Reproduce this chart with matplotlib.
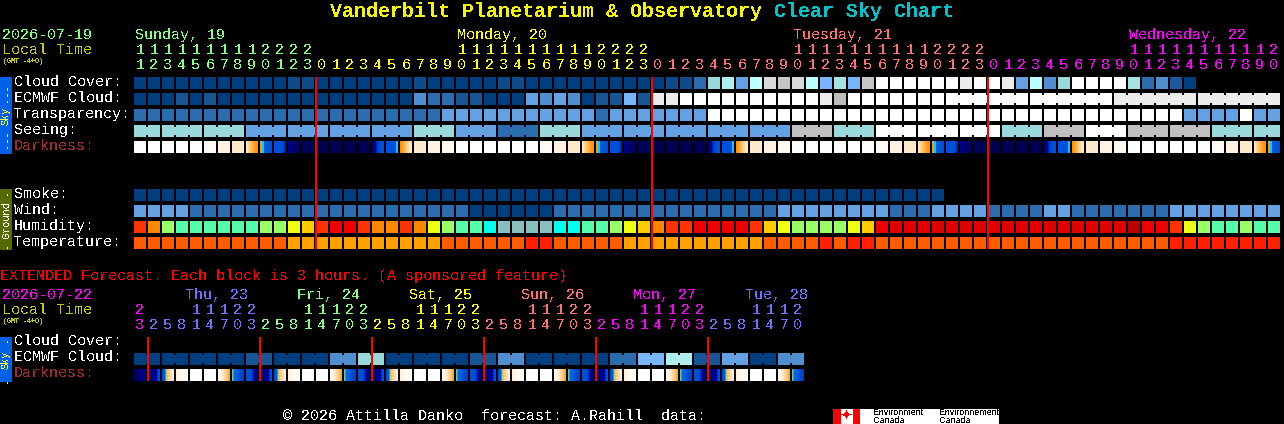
import matplotlib
matplotlib.use("Agg")
import matplotlib.pyplot as plt
from matplotlib.patches import Rectangle

plt.rcParams['text.antialiased'] = False

# ---- palette codes ----
PAL = {
 'a': '#003F7F', 'b': '#0D4B8A', 'c': '#175595', 'C': '#1C5A9E', 'd': '#2B6CAE',
 'e': '#4F8FD0', 'f': '#63A1E3', 'g': '#77B5FE', 'h': '#99D9D9', 'i': '#A5E3E3',
 'j': '#AFEEEE', 'k': '#BBFFFF', 'l': '#C6C6C6', 'm': '#D8D8D8', 'n': '#ECECEC',
 'w': '#FFFFFF', 's': '#C0C0C0', 'o': '#BBBBBB',
 'H': '#FF3300', 'O': '#FF8800', 'L': '#99FF66', 'T': '#55FFAA', 'Y': '#EEFF11',
 'P': '#FFCC00', 'R': '#EE0000', 'S': '#E00000', 'K': '#BB0000', 'B': '#00FFEE',
 'G': '#88BFBF',
 'U': '#FF5C00', 'V': '#FFA000', 'X': '#FF2000',
}

# ---- hourly rows (one code per block) ----
cloud_cover = "aaaaaaaaaaa" "bb" "aaaaaaa" "b" "a" "aaaa" "bb" "aaaaaaaaa" "a" "bb" "d" "h" "j" "f" "k" "m" "l" "m" "k" "g" "i" "g" \
    "l" "wwwwww" "n" "w" "w" "n" "f" "k" "e" "h" "wwww" "i" "d" "e" "C" "a"
ecmwf_cloud = "aaacacaaaaaaaaaaaaaa" "e" "d" "d" "cc" "aaa" "f" "e" "f" "e" "a" "cc" "g" "c" "nn" \
    "wwwwwwwwww" "n" "o" "w" "wwwwwwwwwwwwwwwwww" "nnnnnn" "nnnnnn"
transparency = "dddddddddddddddddddddd" "fffffffffff" "d" "fffffff" \
    "wwwwwwwwwwwwwwwwwwwwwwwwwwwwwwwwww" "ffffwff"
seeing = "hh" "hhh" "hhh" "fff" "fff" "fff" "fff" "hhh" "fff" "ddd" "hhh" "fff" "fff" "fff" "fff" "fff" \
    "sss" "hhh" "www" "www" "www" "hhh" "sss" "www" "sss" "sss" "hhh" "hh"
smoke = "aaaaaaaaaaaaaaaaaaaaaaaaaaaaaaaaaaaaaaaaaaaaaaaaaaaaaaaaaa"
wind = "ffff" "dddddddddddddddddddd" "aaaaaa" "dddddddddddddddd" "ffffffff" "ddd" "ffff" "dddd" "ff" "ddddddd" "ffffffff"
humidity = "HOLTTTTTTLLYPHRRHOOHOY" "LTTB" "GGGG" "BB" "TTLYP" "OHHRRRRH" "PYLLLLY" "PR" \
    "SSSSSSSSSSSSSSSSS" "KRRHYLTTLTT"
temperature = "UUUUUUUUUUU" "VVVVVVVVVVV" "UUUUUU" "XX" "UUUUU" "VVVVVVVVVV" "UUUU" "XUXX" \
    "UUUUUUUUUUUUUUUUUUUUU" "XXXXXXXX"

# ---- darkness blocks: code -> colour stops across the block ----
DARK = {
 '0': ['#FFFFFF'], '1': ['#FFFAF2'], '2': ['#FFF2E0'], '3': ['#FFE9CC'],
 '4': ['#FFEBCF', '#FFE0B0', '#FFD596', '#FFCB80', '#FFC070', '#FFB860', '#FFB050', '#FFA838', '#FFA020', '#FF9A10', '#FF9000', '#FF9000'],
 '5': ['#FF9A00', '#FF9A00', '#00CCFF', '#00CCFF', '#0060E0', '#0058DC', '#0055D8', '#0055D8', '#0052D6', '#0052D6', '#0050D4', '#0050D4'],
 '6': ['#004EDC', '#004EDC', '#004EDC', '#004EDC', '#004EDC', '#004EDC', '#004EDC', '#004EDC', '#004EDC', '#0040C0', '#0030B0', '#0020A0'],
 '7': ['#000098', '#000090', '#000088', '#000080', '#000078', '#000070', '#00006C', '#000068', '#000066', '#000064', '#000062', '#000060'],
 '8': ['#000058'], '9': ['#000050'],
 'p': ['#000060', '#000070', '#000090', '#0000A0', '#0020B0', '#0040C8', '#0048D0', '#004CD4', '#004ED8', '#0050DC', '#0050DC', '#0050DC'],
 'q': ['#0050E0', '#0050E0', '#0050E0', '#0050E0', '#0050E0', '#0050E0', '#0050E0', '#0050E0', '#0050E0', '#0050E0', '#00CCFF', '#00CCFF'],
 'r': ['#FF9000', '#FF9800', '#FFA020', '#FFA838', '#FFB050', '#FFBC68', '#FFC880', '#FFD296', '#FFDCAA', '#FFE4BC', '#FFE8C8', '#FFE9CC'],
}
darkness = "00000" "12345678" "9999" "pqr" "3210" \
           "00000" "12345678" "9999" "pqr" "3210" \
           "00000" "12345678" "9999" "pqr" "3210" \
           "00000" "12345"

# ---- hour labels ----
hours = [11,12,13,14,15,16,17,18,19,20,21,22,23,
         0,1,2,3,4,5,6,7,8,9,10,11,12,13,14,15,16,17,18,19,20,21,22,23,
         0,1,2,3,4,5,6,7,8,9,10,11,12,13,14,15,16,17,18,19,20,21,22,23,
         0,1,2,3,4,5,6,7,8,9,10,11,12,13,14,15,16,17,18,19,20]
day_names = ["Sunday, 19", "Monday, 20", "Tuesday, 21", "Wednesday, 22"]
day_blocks = [0, 23, 47, 71]
ext_hours = [23, 2,5,8,11,14,17,20,23, 2,5,8,11,14,17,20,23, 2,5,8,11,14,17,20,23,
             2,5,8,11,14,17,20,23, 2,5,8,11,14,17,20,23, 2,5,8,11,14,17,20]
ext_names = ["Thu, 23", "Fri, 24", "Sat, 25", "Sun, 26", "Mon, 27", "Tue, 28"]
ext_blocks = [4, 12, 20, 28, 36, 44]

# ---- extended rows (3-hour blocks) ----
ext_ecmwf = "aaaa" "aaaa" "cc" "aa" "aa" "ee" "hh" "aa" "aa" "aa" "cc" "ee" "aa" "aa" "aa" "dd" "gg" "jj" "cc" "ff" "aa" "ee"
EXTD = {
 'A': ['#000060', '#000060', '#000060', '#000060', '#000070', '#000070', '#000070', '#000070', '#000090', '#000090', '#000090', '#000090'],
 'B': ['#000070', '#000070', '#000078', '#000078', '#000080', '#000088', '#000090', '#000098', '#0000A8', '#0030C0', '#0050E0', '#0050E0'],
 'C': ['#0050D0', '#0050D0', '#0060D8', '#00AADD', '#C0C080', '#FFC060', '#FFC880', '#FFD296', '#FFDCAA', '#FFE4BC', '#FFEBD0', '#FFF0DC'],
 'D': ['#FFF0DE', '#FFF2E2', '#FFF4E6', '#FFF6EA', '#FFF8EE', '#FFF8EE', '#FFFAF2', '#FFFAF2', '#FFFCF6', '#FFFCF6', '#FFFEFA', '#FFFFFF'],
 'E': ['#FFFFFF'],
 'F': ['#FFFCF6', '#FFF8EE', '#FFF4E6', '#FFF0DC', '#FFEBD0', '#FFE4BC', '#FFDCAA', '#FFD296', '#FFC880', '#FFC060', '#FFB040', '#FFA030'],
 'G': ['#80C080', '#00A0E0', '#0070E8', '#0060E0', '#0060E0', '#0060E0', '#0050D8', '#0050D8', '#0048D0', '#0048D0', '#0040C8', '#0040C8'],
 'H': ['#0050D8', '#0050D8', '#0050D8', '#0050D8', '#0050D8', '#0040C8', '#0030B8', '#0020A8', '#000098', '#000090', '#000088', '#000080'],
}
ext_dark = "ABCDEEFG" "HBCDEEFG" "HBCDEEFG" "HBCDEEFG" "HBCDEEFG" "HBCDEEFG"

row_labels = ["Cloud Cover:", "ECMWF Cloud:", "Transparency:", "Seeing:", "Darkness:"]
ground_labels = ["Smoke:", "Wind:", "Humidity:", "Temperature:"]

# ---- colours for text ----
GREEN, YEL, SALM, MAG, BLUE = '#80FF80', '#FFFF00', '#FF7070', '#FF00FF', '#7070FF'
OLIVE, DARKRED = '#C8C800', '#A52A2A'
MONO = 'Liberation Mono'
FS = 10.8

fig = plt.figure(figsize=(12.84, 4.24), dpi=100, facecolor='black')
ax = fig.add_axes([0, 0, 1, 1])
ax.set_xlim(0, 1284); ax.set_ylim(424, 0); ax.axis('off'); ax.set_facecolor('black')

X0, STEP, W, H = 134, 14, 12, 12
def bx(i): return X0 + STEP * i
def rect(x, y, w, h, c, z=2):
    ax.add_patch(Rectangle((x, y), w, h, fc=c, ec='none', lw=0, antialiased=False, zorder=z))

def row(codes, y, groups=None):
    for i, ch in enumerate(codes):
        rect(bx(i), y, W, H, PAL[ch])
    if groups:
        for start, n in groups:
            for i in range(start, start + n - 1):
                if i + 1 < len(codes):
                    rect(bx(i) + W, y + 2, STEP - W, H - 4, PAL[codes[i]])

def grad_row(codes, table, y):
    for i, ch in enumerate(codes):
        stops = table[ch]
        if len(stops) == 1:
            rect(bx(i), y, W, H, stops[0])
        else:
            for j, c in enumerate(stops):
                rect(bx(i) + j, y, 1, H, c)

def T(x, y, s, c='white', fs=FS, **kw):
    kw.setdefault('ha', 'left'); kw.setdefault('family', MONO)
    ax.text(x, y - 1, s, color=c, fontsize=fs, va='baseline', zorder=5, **kw)

def V(yc, s, c, fs=7.4):
    ax.text(6, yc, s, color=c, fontsize=fs, family=MONO, rotation=90,
            ha='center', va='center', rotation_mode='anchor', zorder=5)

# Title
T(330, 18, "Vanderbilt Planetarium & Observatory", '#F5F500', 14.4, fontweight='bold')
T(774, 18, "Clear Sky Chart", '#00C4CC', 14.4, fontweight='bold')

# hourly header
T(2, 40, "2026-07-19", GREEN)
T(2, 55, "Local Time", OLIVE)
T(3, 64, "(GMT -4+0)", OLIVE, 4.8, fontweight='bold')
cols = [GREEN, YEL, SALM, MAG]
for nm, b, c in zip(day_names, day_blocks, cols):
    T(bx(b) + 1, 40, nm, c)
day = 0
for i, hr in enumerate(hours):
    if i and hr == 0:
        day += 1
    c = cols[day]
    if hr >= 10:
        T(bx(i) + 6, 55, str(hr // 10), c, ha='center')
    T(bx(i) + 6, 70, str(hr % 10), c, ha='center')

# Sky rows
sky_y = [77, 93, 109, 125, 141]
row(cloud_cover, sky_y[0])
row(ecmwf_cloud, sky_y[1], [(58, 6), (64, 6), (70, 6), (76, 6)])
row(transparency, sky_y[2])
row(seeing, sky_y[3], [(0, 2)] + [(s, 3) for s in range(2, 80, 3)] + [(80, 2)])
grad_row(darkness, DARK, sky_y[4])
for y, s in zip(sky_y, row_labels):
    T(14, y + 10, s, DARKRED if s.startswith("Dark") else 'white')

# Ground rows
gr_y = [189, 205, 221, 237]
row(smoke, gr_y[0]); row(wind, gr_y[1]); row(humidity, gr_y[2]); row(temperature, gr_y[3])
for y, s in zip(gr_y, ground_labels):
    T(14, y + 10, s)

# Side bars
rect(0, 77, 12, 77, '#0060E8')
for yc, s in [(92.5, "---"), (115.5, "Sky"), (139, "---")]:
    V(yc, s, '#FFFF40')
rect(0, 189, 12, 61, '#556B00')
for yc, s in [(192, "-"), (219.5, "Ground"), (245, "-")]:
    V(yc, s, 'white')

# Midnight lines
for x in [316, 652, 988]:
    rect(x - 1, 77, 2, 172, '#FF0000', z=4)

# Extended block
T(0, 281, "EXTENDED Forecast. Each block is 3 hours. (A sponsored feature)", '#FF0000')
T(2, 300, "2026-07-22", MAG)
T(2, 315, "Local Time", OLIVE)
T(3, 324, "(GMT -4+0)", OLIVE, 4.8, fontweight='bold')
ext_cols = [MAG, BLUE, GREEN, YEL, SALM, MAG, BLUE]
for nm, b, c in zip(ext_names, ext_blocks, ext_cols[1:]):
    T(bx(b) - 5, 300, nm, c)
day = 0
for i, hr in enumerate(ext_hours):
    if i and hr < ext_hours[i - 1]:
        day += 1
    c = ext_cols[day]
    if hr >= 10:
        T(bx(i) + 6, 315, str(hr // 10), c, ha='center')
    T(bx(i) + 6, 330, str(hr % 10), c, ha='center')

rect(0, 337, 12, 45, '#0060E8')
for yc, s in [(339, "-"), (359.5, "Sky"), (380, "-")]:
    V(yc, s, '#FFFF40')
for y, s in zip([346, 362, 378], ["Cloud Cover:", "ECMWF Cloud:", "Darkness:"]):
    T(14, y, s, DARKRED if s.startswith("Dark") else 'white')
row(ext_ecmwf, 353, [(s, 2) for s in range(0, 48, 2)])
grad_row(ext_dark, EXTD, 369)
for k in range(1, 42, 8):
    rect(bx(k) - 1, 337, 2, 44, '#FF0000', z=4)

# Footer
T(283, 420.5, "\u00a9 2026 Attilla Danko  forecast: A.Rahill  data:", 'white')
rect(833, 409, 166, 15, 'white')
rect(833, 409, 8, 15, '#FF0000'); rect(853, 409, 7, 15, '#FF0000')
T(847, 421, "\u2726", '#FF0000', 11, ha='center', family='DejaVu Sans')
for x, y, s in [(873, 415, "Environment"), (873, 423, "Canada"),
                (939, 415, "Environnement"), (939, 423, "Canada")]:
    T(x, y + 1, s, 'black', 6.4, family='Liberation Sans')

fig.savefig("out.png", dpi=100, facecolor='black')
